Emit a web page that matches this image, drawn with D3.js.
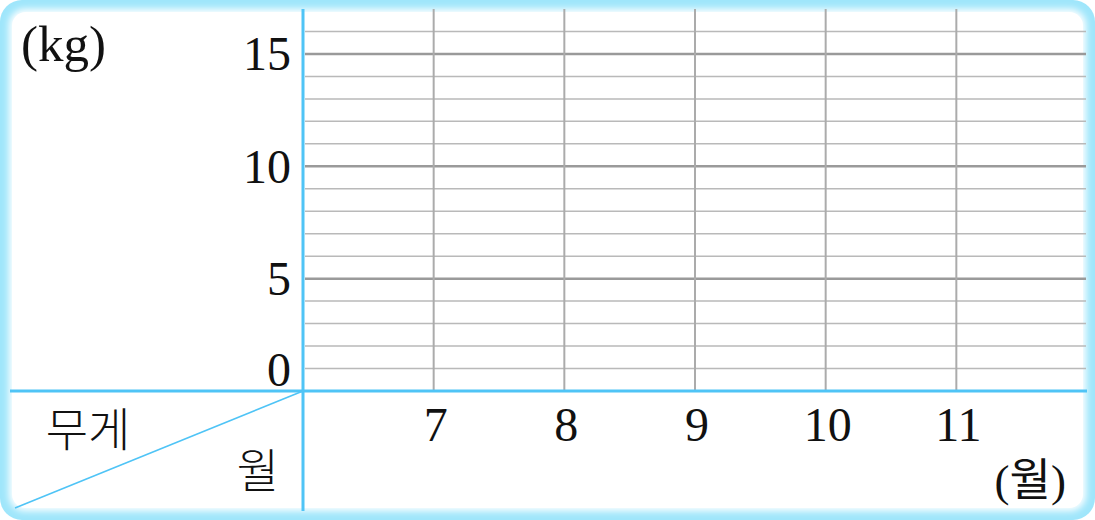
<!DOCTYPE html>
<html>
<head>
<meta charset="utf-8">
<script src="https://cdn.jsdelivr.net/npm/d3@7"></script>
<style>
html,body{margin:0;padding:0;background:#fff;}
svg{display:block;}
</style>
</head>
<body>
<svg id="chart" width="1095" height="520"></svg>
<script>
// ---- data ----
const months = [7, 8, 9, 10, 11];
const monthLabels = ["7", "8", "9", "10", "11"];
const yTickValues = [0, 5, 10, 15];
const yTickLabels = ["0", "5", "10", "15"];
const gridValues = [1, 2, 3, 4, 5, 6, 7, 8, 9, 10, 11, 12, 13, 14, 15, 16];
const weights = []; // empty chart: no values plotted
const yUnit = "(kg)";
const xUnit = "(월)";
const cornerTop = "무게";
const cornerBottom = "월";

// ---- drawing ----
const svg = d3.select("#chart");
const W = 1095, H = 520;
const x = d3.scaleLinear().domain([6, 12]).range([303, 1087]);
const y = d3.scaleLinear().domain([0, 17]).range([391, 9]);

const defs = svg.append("defs");
const f = defs.append("filter").attr("id", "blur").attr("x", "-5%").attr("y", "-5%").attr("width", "110%").attr("height", "110%");
f.append("feGaussianBlur").attr("stdDeviation", 3.5);

// frame
svg.append("rect").attr("x", 0).attr("y", 0).attr("width", W).attr("height", H)
  .attr("rx", 22).attr("fill", "#9fe6fb");
svg.append("rect").attr("x", 9).attr("y", 9).attr("width", W - 18).attr("height", H - 18)
  .attr("rx", 16).attr("fill", "#ffffff").attr("filter", "url(#blur)");
svg.append("rect").attr("x", 12).attr("y", 12).attr("width", W - 24).attr("height", H - 24)
  .attr("rx", 14).attr("fill", "#ffffff");

const grid = svg.append("g");
// horizontal grid lines
grid.selectAll("line.h").data(gridValues).join("line")
  .attr("class", "h")
  .attr("x1", x(6) + 2).attr("x2", x(12) - 1)
  .attr("y1", d => y(d)).attr("y2", d => y(d))
  .attr("stroke", d => d % 5 === 0 ? "#9a9a9a" : "#b9b9b9")
  .attr("stroke-width", d => d % 5 === 0 ? 2.5 : 1.5);
// vertical grid lines
grid.selectAll("line.v").data(months).join("line")
  .attr("class", "v")
  .attr("x1", d => x(d)).attr("x2", d => x(d))
  .attr("y1", y(17)).attr("y2", y(0))
  .attr("stroke", "#ababab").attr("stroke-width", 2);

// axes lines
const blue = "#4fc4f6";
svg.append("line").attr("x1", 10).attr("x2", x(12)).attr("y1", y(0)).attr("y2", y(0))
  .attr("stroke", blue).attr("stroke-width", 3);
svg.append("line").attr("x1", x(6)).attr("x2", x(6)).attr("y1", y(17)).attr("y2", 511)
  .attr("stroke", blue).attr("stroke-width", 3);
// diagonal in corner cell
svg.append("line").attr("x1", x(6)).attr("y1", y(0)).attr("x2", 15).attr("y2", 508)
  .attr("stroke", blue).attr("stroke-width", 1.6);

const serif = "'Liberation Serif', 'DejaVu Serif', serif";
const kr = "'Noto Sans CJK KR', sans-serif";

// y tick labels
svg.selectAll("text.yt").data(yTickValues).join("text")
  .attr("class", "yt")
  .attr("x", 291)
  .attr("y", d => d === 0 ? y(0) - 21 : y(d))
  .attr("dy", "0.34em")
  .attr("text-anchor", "end")
  .attr("font-family", serif).attr("font-size", 48).attr("fill", "#111")
  .text((d, i) => yTickLabels[i]);

// x tick labels
svg.selectAll("text.xt").data(months).join("text")
  .attr("class", "xt")
  .attr("x", d => x(d) + 2)
  .attr("y", 441)
  .attr("text-anchor", "middle")
  .attr("font-family", serif).attr("font-size", 48).attr("fill", "#111")
  .text((d, i) => monthLabels[i]);

// unit labels
svg.append("text").attr("x", 21).attr("y", 61)
  .attr("font-family", serif).attr("font-size", 51).attr("fill", "#111").text(yUnit);

const xu = svg.append("text").attr("x", 1066).attr("y", 496).attr("text-anchor", "end")
  .attr("font-size", 45).attr("fill", "#111");
xu.append("tspan").attr("font-family", serif).text("(");
xu.append("tspan").attr("font-family", kr).text(xUnit.slice(1, -1));
xu.append("tspan").attr("font-family", serif).text(")");

// corner labels
svg.append("text").attr("x", 88).attr("y", 429).attr("dy", "0.36em")
  .attr("text-anchor", "middle").attr("font-family", kr).attr("font-size", 46)
  .attr("font-weight", 300).attr("fill", "#111").text(cornerTop);
svg.append("text").attr("x", 258).attr("y", 470).attr("dy", "0.36em")
  .attr("text-anchor", "middle").attr("font-family", kr).attr("font-size", 46)
  .attr("font-weight", 300).attr("fill", "#111").text(cornerBottom);
</script>
</body>
</html>
